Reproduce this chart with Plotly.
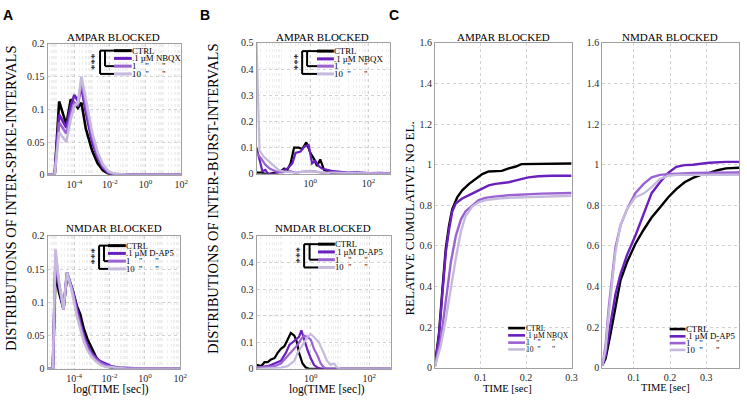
import plotly.graph_objects as go

W, H = 747, 402


def px(x):
    return x / W


def py(y):
    return 1 - y / H


SERIF = "Liberation Serif, Times New Roman, serif"
SANS = "Liberation Sans, Arial, sans-serif"
COLORS = ["#000000", "#6a1fbe", "#9b62d2", "#c5badb"]
NB = "\u00a0"
LEG_AMPAR = ["CTRL", ".1 µM NBQX", "1" + NB * 4 + '"' + NB * 6 + '"', "10" + NB * 2 + '"' + NB * 6 + '"']
LEG_NMDAR = ["CTRL", ".1 µM D-AP5", "1" + NB * 4 + '"' + NB * 6 + '"', "10" + NB * 2 + '"' + NB * 6 + '"']

# ---------- A: inter-spike-interval distributions (x = log10 seconds) ----------
ISI_AMPAR_LOGT = [-5.5, -5.1, -4.85, -4.45, -4.2, -4.0, -3.8, -3.6, -3.35, -3.0, -2.7, -2.4, -2.1, -1.8, -1.0, 0.0, 1.0, 2.0]
ISI_AMPAR_CTRL = [0, 0, 0.112, 0.077, 0.115, 0.110, 0.102, 0.110, 0.070, 0.037, 0.018, 0.007, 0.002, 0, 0, 0, 0, 0]
ISI_AMPAR_01 = [0, 0, 0.092, 0.072, 0.105, 0.122, 0.113, 0.133, 0.095, 0.050, 0.027, 0.011, 0.003, 0.001, 0, 0, 0, 0]
ISI_AMPAR_1 = [0, 0, 0.080, 0.063, 0.092, 0.110, 0.105, 0.142, 0.105, 0.058, 0.030, 0.013, 0.004, 0.001, 0, 0, 0, 0]
ISI_AMPAR_10 = [0, 0, 0.065, 0.050, 0.085, 0.105, 0.110, 0.150, 0.115, 0.065, 0.035, 0.016, 0.006, 0.002, 0, 0, 0, 0]

ISI_NMDAR_LOGT = [-5.5, -5.2, -5.05, -4.85, -4.6, -4.4, -4.1, -3.85, -3.65, -3.45, -3.25, -3.0, -2.75, -2.5, -2.2, -1.9, -1.5, -1.0, 0.0, 1.0, 2.0]
ISI_NMDAR_CTRL = [0, 0, 0.145, 0.115, 0.090, 0.140, 0.120, 0.095, 0.082, 0.060, 0.045, 0.030, 0.017, 0.009, 0.004, 0.002, 0.001, 0, 0, 0, 0]
ISI_NMDAR_01 = [0, 0, 0.165, 0.125, 0.090, 0.145, 0.120, 0.090, 0.070, 0.050, 0.036, 0.024, 0.016, 0.011, 0.007, 0.004, 0.002, 0.001, 0, 0, 0]
ISI_NMDAR_1 = [0, 0, 0.172, 0.128, 0.090, 0.145, 0.118, 0.085, 0.065, 0.046, 0.032, 0.021, 0.014, 0.009, 0.005, 0.003, 0.001, 0, 0, 0, 0]
ISI_NMDAR_10 = [0, 0, 0.180, 0.130, 0.090, 0.145, 0.115, 0.080, 0.060, 0.041, 0.028, 0.018, 0.011, 0.006, 0.003, 0.002, 0.001, 0, 0, 0, 0]

# ---------- B: inter-burst-interval distributions (x = log10 seconds) ----------
IBI_AMPAR_CTRL_LOGT = [-1.85, -1.7, -1.55, -1.4, -1.02, -0.9, -0.79, -0.68, -0.56, -0.4, -0.28, -0.14, 0.0, 0.11, 0.23, 0.34, 0.47, 0.62, 0.8, 2.75]
IBI_AMPAR_CTRL = [0.005, 0.005, 0, 0, 0.01, 0.02, 0.015, 0.04, 0.10, 0.10, 0.095, 0.12, 0.08, 0.06, 0.03, 0.055, 0.015, 0.008, 0, 0]
IBI_AMPAR_01_LOGT = [-1.85, -1.75, -1.65, -1.55, -1.45, -1.2, -0.79, -0.62, -0.51, -0.34, -0.2, -0.06, 0.06, 0.17, 0.28, 0.4, 0.56, 0.79, 1.02, 1.3, 1.6, 2.0, 2.4, 2.75]
IBI_AMPAR_01 = [0.10, 0.05, 0.01, 0.015, 0, 0, 0.02, 0.04, 0.08, 0.085, 0.105, 0.11, 0.04, 0.05, 0.03, 0.02, 0.015, 0.01, 0.008, 0.005, 0.006, 0.003, 0.004, 0.002]
IBI_AMPAR_1_LOGT = [-1.85, -1.7, -1.55, -1.4, -1.2, -1.0, -0.7, -0.5, -0.3, 0.1, 0.4, 0.8, 1.2, 1.6, 2.0, 2.4, 2.75]
IBI_AMPAR_1 = [0.08, 0.06, 0.035, 0.02, 0.01, 0.005, 0.01, 0.004, 0.008, 0.01, 0.004, 0.006, 0.003, 0.005, 0.002, 0.003, 0.002]
IBI_AMPAR_10_LOGT = [-1.85, -1.8, -1.75, -1.6, -1.45, -1.3, -1.1, -0.9, -0.5, 0.0, 0.5, 1.0, 1.5, 2.0, 2.75]
IBI_AMPAR_10 = [0.50, 0.30, 0.09, 0.065, 0.05, 0.035, 0.015, 0.008, 0.005, 0.01, 0.005, 0.004, 0.003, 0.002, 0.001]

IBI_NMDAR_CTRL_LOGT = [-1.85, -1.69, -1.58, -1.47, -1.36, -1.24, -1.13, -1.02, -0.9, -0.79, -0.68, -0.56, -0.47, -0.4, -0.28, -0.17, -0.06, 2.75]
IBI_NMDAR_CTRL = [0.015, 0.01, 0.025, 0.025, 0.035, 0.04, 0.06, 0.075, 0.085, 0.11, 0.135, 0.125, 0.10, 0.06, 0.02, 0.005, 0, 0]
IBI_NMDAR_01_LOGT = [-1.85, -1.47, -1.24, -1.02, -0.85, -0.73, -0.62, -0.51, -0.4, -0.32, -0.2, -0.11, 0.0, 0.11, 0.23, 0.34, 2.75]
IBI_NMDAR_01 = [0.005, 0.01, 0.02, 0.03, 0.06, 0.09, 0.10, 0.11, 0.12, 0.145, 0.10, 0.07, 0.04, 0.015, 0.005, 0, 0]
IBI_NMDAR_1_LOGT = [-1.85, -1.24, -1.02, -0.79, -0.62, -0.45, -0.34, -0.23, -0.11, 0.0, 0.11, 0.23, 0.34, 0.45, 0.56, 2.75]
IBI_NMDAR_1 = [0.005, 0.01, 0.02, 0.05, 0.07, 0.09, 0.11, 0.125, 0.12, 0.11, 0.075, 0.05, 0.02, 0.005, 0, 0]
IBI_NMDAR_10_LOGT = [-1.85, -1.02, -0.79, -0.56, -0.45, -0.34, -0.23, -0.11, 0.0, 0.11, 0.28, 0.45, 0.56, 0.68, 0.79, 0.9, 1.02, 2.75]
IBI_NMDAR_10 = [0, 0.005, 0.01, 0.03, 0.06, 0.08, 0.10, 0.12, 0.13, 0.12, 0.10, 0.06, 0.03, 0.015, 0.02, 0.005, 0, 0]

# ---------- C: relative cumulative number of electrodes (x = seconds) ----------
CUM_AMPAR_CTRL_T = [0, 0.009, 0.017, 0.024, 0.031, 0.038, 0.049, 0.06, 0.075, 0.089, 0.104, 0.118, 0.133, 0.147, 0.162, 0.176, 0.19, 0.205, 0.234, 0.256, 0.27, 0.3]
CUM_AMPAR_CTRL = [0.013, 0.17, 0.40, 0.59, 0.70, 0.78, 0.84, 0.874, 0.906, 0.93, 0.954, 0.967, 0.967, 0.97, 0.982, 0.99, 1.003, 1.003, 1.003, 1.003, 1.006, 1.006]
CUM_AMPAR_01_T = [0, 0.009, 0.017, 0.024, 0.031, 0.038, 0.046, 0.06, 0.075, 0.089, 0.104, 0.118, 0.133, 0.147, 0.162, 0.176, 0.19, 0.205, 0.227, 0.256, 0.3]
CUM_AMPAR_01 = [0.01, 0.156, 0.38, 0.57, 0.68, 0.77, 0.81, 0.834, 0.85, 0.866, 0.88, 0.898, 0.906, 0.91, 0.914, 0.922, 0.93, 0.938, 0.943, 0.946, 0.946]
CUM_AMPAR_1_T = [0, 0.013, 0.024, 0.035, 0.046, 0.057, 0.067, 0.082, 0.096, 0.111, 0.125, 0.162, 0.198, 0.234, 0.3]
CUM_AMPAR_1 = [0.01, 0.14, 0.33, 0.52, 0.65, 0.73, 0.77, 0.80, 0.826, 0.837, 0.842, 0.85, 0.855, 0.858, 0.861]
CUM_AMPAR_10_T = [0, 0.013, 0.024, 0.035, 0.046, 0.057, 0.067, 0.082, 0.096, 0.111, 0.14, 0.176, 0.22, 0.3]
CUM_AMPAR_10 = [0.005, 0.11, 0.24, 0.40, 0.54, 0.67, 0.746, 0.794, 0.815, 0.826, 0.834, 0.839, 0.842, 0.847]

CUM_NMDAR_CTRL_T = [0.013, 0.022, 0.036, 0.049, 0.063, 0.081, 0.104, 0.127, 0.149, 0.172, 0.195, 0.217, 0.24, 0.263, 0.285, 0.308, 0.331, 0.354, 0.39]
CUM_NMDAR_CTRL = [0.013, 0.045, 0.17, 0.30, 0.43, 0.52, 0.61, 0.68, 0.74, 0.79, 0.84, 0.88, 0.914, 0.935, 0.95, 0.96, 0.973, 0.982, 0.985]
CUM_NMDAR_01_T = [0.013, 0.022, 0.036, 0.049, 0.063, 0.081, 0.104, 0.127, 0.149, 0.172, 0.195, 0.217, 0.24, 0.263, 0.308, 0.354, 0.39]
CUM_NMDAR_01 = [0.013, 0.06, 0.22, 0.36, 0.46, 0.555, 0.65, 0.76, 0.86, 0.914, 0.96, 0.99, 0.998, 1.0, 1.01, 1.014, 1.014]
CUM_NMDAR_1_T = [0.013, 0.022, 0.031, 0.040, 0.049, 0.063, 0.081, 0.104, 0.127, 0.149, 0.172, 0.195, 0.217, 0.263, 0.39]
CUM_NMDAR_1 = [0.013, 0.11, 0.30, 0.46, 0.59, 0.70, 0.78, 0.86, 0.906, 0.938, 0.95, 0.954, 0.957, 0.96, 0.962]
CUM_NMDAR_10_T = [0.013, 0.022, 0.031, 0.040, 0.049, 0.063, 0.081, 0.104, 0.127, 0.149, 0.172, 0.195, 0.217, 0.263, 0.39]
CUM_NMDAR_10 = [0.013, 0.09, 0.27, 0.43, 0.57, 0.70, 0.78, 0.84, 0.858, 0.89, 0.93, 0.946, 0.95, 0.95, 0.95]

LOG_TICKVALS = [1e-4, 1e-2, 1, 1e2]
LOG_TICKTEXT = ["10<sup>-4</sup>", "10<sup>-2</sup>", "10<sup>0</sup>", "10<sup>2</sup>"]
LOG_TICKVALS_B = [1, 1e2]
LOG_TICKTEXT_B = ["10<sup>0</sup>", "10<sup>2</sup>"]

fig = go.Figure()

GRID = "#d2d2d2"
MINOR = "#efefef"
FRAME = "#a0a0a0"
TICKFONT = dict(family=SERIF, size=10, color="#262626")

# panel boxes in pixels: (x0, x1, y_top, y_bottom)
BOXES = {
    1: (48, 183, 39, 174),
    2: (48, 182, 237, 374),
    3: (259, 394, 38, 173),
    4: (259, 395, 237, 374),
    5: (439, 577, 38, 373),
    6: (608, 746, 38, 373),
}

layout = dict(width=W, height=H, margin=dict(l=0, r=0, t=0, b=0),
              paper_bgcolor="white", plot_bgcolor="white", showlegend=False)

for i, (x0, x1, y0, y1) in BOXES.items():
    xa = dict(domain=[px(x0), px(x1)], anchor=f"y{i}", showline=True, mirror=True,
              linecolor=FRAME, linewidth=1, showgrid=True, gridcolor=GRID, griddash="dot",
              zeroline=False, ticks="", tickfont=TICKFONT)
    ya = dict(domain=[py(y1), py(y0)], anchor=f"x{i}", showline=True, mirror=True,
              linecolor=FRAME, linewidth=1, showgrid=True, gridcolor=GRID, griddash="dot",
              zeroline=False, ticks="", tickfont=TICKFONT)
    if i in (1, 2):
        xa.update(type="log", range=[-5.5, 2], tickvals=LOG_TICKVALS, ticktext=LOG_TICKTEXT,
                  minor=dict(showgrid=True, gridcolor=MINOR, griddash="dot", dtick="D1"))
        ya.update(range=[0, 0.2], tickvals=[0, 0.05, 0.1, 0.15, 0.2],
                  ticktext=["0", "0.05", "0.1", "0.15", "0.2"])
    elif i in (3, 4):
        xa.update(type="log", range=[-1.85, 2.75], tickvals=LOG_TICKVALS_B, ticktext=LOG_TICKTEXT_B,
                  minor=dict(showgrid=True, gridcolor=MINOR, griddash="dot", dtick="D1"))
        ya.update(range=[0, 0.5], tickvals=[0, 0.1, 0.2, 0.3, 0.4, 0.5],
                  ticktext=["0", "0.1", "0.2", "0.3", "0.4", "0.5"])
    else:
        if i == 5:
            xa.update(range=[0, 0.3])
        else:
            xa.update(range=[0.013, 0.39])
        xa.update(tickvals=[0.1, 0.2, 0.3], ticktext=["0.1", "0.2", "0.3"])
        ya.update(range=[0, 1.6], tickvals=[0, 0.2, 0.4, 0.6, 0.8, 1, 1.2, 1.4, 1.6],
                  ticktext=["0", "0.2", "0.4", "0.6", "0.8", "1", "1.2", "1.4", "1.6"])
    sfx = "" if i == 1 else str(i)
    layout[f"xaxis{sfx}"] = xa
    layout[f"yaxis{sfx}"] = ya

fig.update_layout(**layout)


def add_series(ax, xs_list, ys_list, log=False, width=2.6):
    for k, (xs, ys) in enumerate(zip(xs_list, ys_list)):
        xv = [10 ** v for v in xs] if log else xs
        fig.add_trace(go.Scatter(x=xv, y=ys, mode="lines", xaxis=f"x{ax}", yaxis=f"y{ax}",
                                 line=dict(color=COLORS[k], width=width), hoverinfo="skip"))


add_series(1, [ISI_AMPAR_LOGT] * 4, [ISI_AMPAR_CTRL, ISI_AMPAR_01, ISI_AMPAR_1, ISI_AMPAR_10], log=True)
add_series(2, [ISI_NMDAR_LOGT] * 4, [ISI_NMDAR_CTRL, ISI_NMDAR_01, ISI_NMDAR_1, ISI_NMDAR_10], log=True)
add_series(3, [IBI_AMPAR_CTRL_LOGT, IBI_AMPAR_01_LOGT, IBI_AMPAR_1_LOGT, IBI_AMPAR_10_LOGT],
           [IBI_AMPAR_CTRL, IBI_AMPAR_01, IBI_AMPAR_1, IBI_AMPAR_10], log=True, width=2.2)
add_series(4, [IBI_NMDAR_CTRL_LOGT, IBI_NMDAR_01_LOGT, IBI_NMDAR_1_LOGT, IBI_NMDAR_10_LOGT],
           [IBI_NMDAR_CTRL, IBI_NMDAR_01, IBI_NMDAR_1, IBI_NMDAR_10], log=True, width=2.2)
add_series(5, [CUM_AMPAR_CTRL_T, CUM_AMPAR_01_T, CUM_AMPAR_1_T, CUM_AMPAR_10_T],
           [CUM_AMPAR_CTRL, CUM_AMPAR_01, CUM_AMPAR_1, CUM_AMPAR_10], width=2.4)
add_series(6, [CUM_NMDAR_CTRL_T, CUM_NMDAR_01_T, CUM_NMDAR_1_T, CUM_NMDAR_10_T],
           [CUM_NMDAR_CTRL, CUM_NMDAR_01, CUM_NMDAR_1, CUM_NMDAR_10], width=2.4)

ann = []
shapes = []


def text(x, y, s, size, xanchor="center", yanchor="middle", angle=0, family=SERIF, color="black", bold=False):
    if bold:
        s = f"<b>{s}</b>"
    ann.append(dict(x=px(x), y=py(y), xref="paper", yref="paper", text=s, showarrow=False,
                    xanchor=xanchor, yanchor=yanchor, textangle=angle, borderpad=0, borderwidth=0,
                    font=dict(family=family, size=size, color=color)))


def hline(x0, x1, y, color, width):
    shapes.append(dict(type="line", xref="paper", yref="paper", x0=px(x0), x1=px(x1),
                       y0=py(y), y1=py(y), line=dict(color=color, width=width)))


def vline(x, y0, y1, color, width):
    shapes.append(dict(type="line", xref="paper", yref="paper", x0=px(x), x1=px(x),
                       y0=py(y0), y1=py(y1), line=dict(color=color, width=width)))


def legend(labels, lx0, lx1, tx, rows, fs, lw, bracket=None):
    for k, (lab, ry) in enumerate(zip(labels, rows)):
        hline(lx0, lx1, ry, COLORS[k], lw)
        text(tx, ry, lab, fs, xanchor="left")
    if bracket:
        ox, ix, sx = bracket
        vline(ox, rows[0], rows[3], "black", 2)
        hline(ox, lx0, rows[0], "black", 2)
        hline(ox, lx0, rows[3], "black", 2)
        vline(ix, rows[0], rows[2], "black", 2)
        hline(ix, lx0, rows[2], "black", 2)
        text(sx, (rows[0] + rows[3]) / 2 - 1, "***", 11, angle=-90)


legend(LEG_AMPAR, 115, 133, 133.5, [46, 54, 62, 70], 8.8, 3, bracket=(101, 106, 95.5))
legend(LEG_NMDAR, 109, 127, 127.5, [247, 255, 263, 271], 8.6, 3, bracket=(100, 105, 95))
legend(LEG_AMPAR, 320, 337, 337.5, [46.5, 54.5, 62, 70], 8.8, 3, bracket=(305, 310, 299.5))
legend(LEG_NMDAR, 321, 338, 338.5, [245.5, 253.5, 261.5, 269.5], 8.6, 3, bracket=(307, 312.5, 301.5))
legend(LEG_AMPAR, 513, 530, 530.5, [332, 339.5, 347, 354], 7.6, 2.6)
legend(LEG_NMDAR, 676, 692, 692.5, [333, 340.5, 347.5, 354.5], 8.8, 2.6)

# titles
text(115, 32, "AMPAR BLOCKED", 11)
text(115, 229, "NMDAR BLOCKED", 11)
text(326, 32, "AMPAR BLOCKED", 11)
text(326, 229, "NMDAR BLOCKED", 11)
text(508, 32, "AMPAR BLOCKED", 11)
text(676, 32, "NMDAR BLOCKED", 11)

# axis titles
text(11, 198, "DISTRIBUTIONS OF INTER-SPIKE-INTERVALS", 14.5, angle=-90)
text(215, 198, "DISTRIBUTIONS OF INTER-BURST-INTERVALS", 14.5, angle=-90)
text(413, 219, "RELATIVE CUMULATIVE NO EL.", 13, angle=-90)
text(112, 395, "log(TIME [sec])", 11.5)
text(330, 395, "log(TIME [sec])", 11.5)
text(512, 394, "TIME [sec]", 10.5)
text(672, 393, "TIME [sec]", 10.5)

# panel letters
text(8, 9, "A", 14, family=SANS, bold=True)
text(207, 9, "B", 14, family=SANS, bold=True)
text(398, 9, "C", 14, family=SANS, bold=True)

fig.update_layout(annotations=ann, shapes=shapes)
fig.write_html("out.html", config={"displayModeBar": False},
               post_script="document.body.style.margin='0';document.body.style.padding='0';"
                           "document.documentElement.style.overflow='hidden';")
